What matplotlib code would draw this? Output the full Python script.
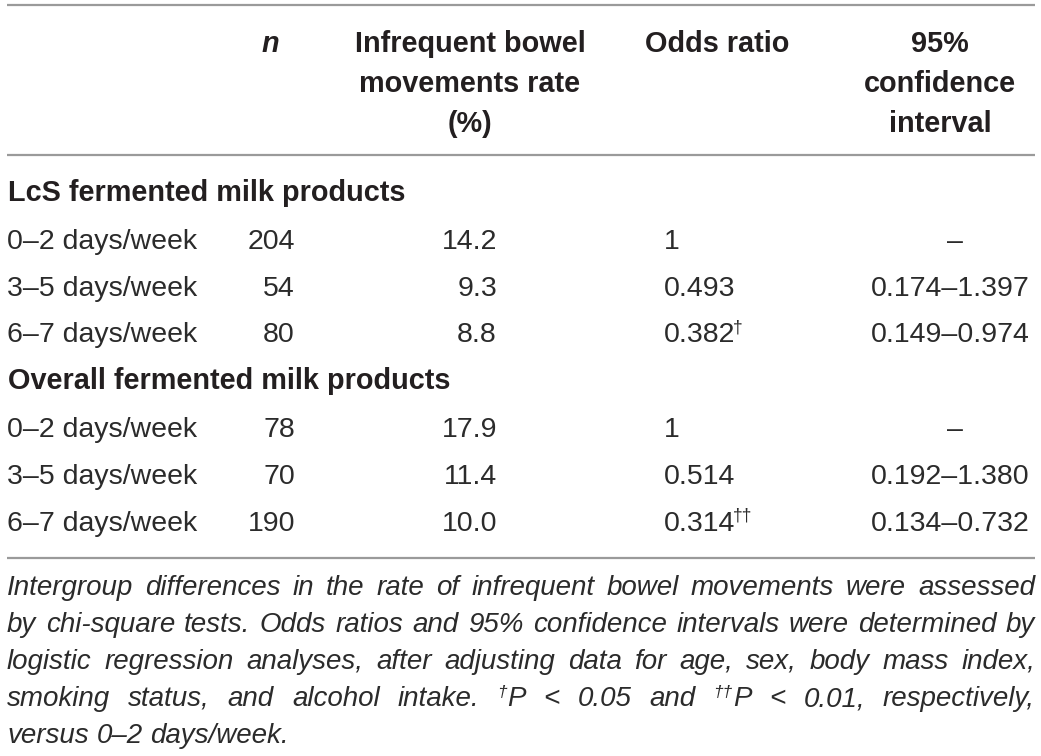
import matplotlib
matplotlib.use("Agg")
import matplotlib.pyplot as plt

# ---- table content -------------------------------------------------------
group_labels = ["LcS fermented milk products", "Overall fermented milk products"]
frequency_labels = ["0–2 days/week", "3–5 days/week", "6–7 days/week"]

lcs_n = [204, 54, 80]
lcs_rate = [14.2, 9.3, 8.8]
lcs_odds = ["1", "0.493", "0.382"]
lcs_odds_mark = ["", "", "†"]
lcs_ci = ["–", "0.174–1.397", "0.149–0.974"]

overall_n = [78, 70, 190]
overall_rate = [17.9, 11.4, 10.0]
overall_odds = ["1", "0.514", "0.314"]
overall_odds_mark = ["", "", "††"]
overall_ci = ["–", "0.192–1.380", "0.134–0.732"]

header_rate = ["Infrequent bowel", "movements rate", "(%)"]
header_ci = ["95%", "confidence", "interval"]

caption_lines = [
    "Intergroup differences in the rate of infrequent bowel movements were assessed",
    "by chi-square tests. Odds ratios and 95% confidence intervals were determined by",
    "logistic regression analyses, after adjusting data for age, sex, body mass index,",
    "smoking status, and alcohol intake. †P < 0.05 and ††P < 0.01, respectively,",
    "versus 0–2 days/week.",
]

# ---- style ---------------------------------------------------------------
FONT = ["Liberation Sans", "DejaVu Sans"]
INK = "#231f20"
BODY_INK = "#2b2b2b"
RULE = "#9a9a9a"
FS = 20.5
HFS = 20.8
CAP_FS = 20.0

fig = plt.figure(figsize=(10.41, 7.56), dpi=100)
ax = fig.add_axes([0, 0, 1, 1])
ax.set_xlim(0, 1041)
ax.set_ylim(756, 0)
ax.set_axis_off()
renderer = fig.canvas.get_renderer()


def txt(x, y, s, ha="left", weight="normal", style="normal", size=FS):
    col = INK if weight == "bold" else BODY_INK
    return ax.text(x, y, s, ha=ha, va="baseline", fontsize=size, fontweight=weight,
                   fontstyle=style, color=col, family=FONT)


def width(t):
    return t.get_window_extent(renderer).width


# rules
for y in (5, 155, 558):
    ax.plot([7, 1035], [y, y], color=RULE, lw=1.6, solid_capstyle="butt")

# header
hdr_base = [52, 92, 132]
txt(270, hdr_base[0], "n", ha="center", weight="bold", style="italic", size=HFS)
for y, s in zip(hdr_base, header_rate):
    txt(470, y, s, ha="center", weight="bold", size=HFS)
txt(645, hdr_base[0], "Odds ratio", weight="bold", size=HFS)
for y, s in zip(hdr_base, header_ci):
    txt(940, y, s, ha="center", weight="bold", size=HFS)

# body
X_LABEL, X_N, X_RATE, X_OR, X_CI, X_DASH = 7, 295, 497, 664, 1030, 955
blocks = [
    (group_labels[0], lcs_n, lcs_rate, lcs_odds, lcs_odds_mark, lcs_ci, [201, 249, 296, 342]),
    (group_labels[1], overall_n, overall_rate, overall_odds, overall_odds_mark, overall_ci,
     [389, 437, 484, 531]),
]
for label, ns, rates, odds, marks, cis, ys in blocks:
    txt(X_LABEL + 1, ys[0], label, weight="bold", size=HFS)
    for y, freq, n, rate, o, mk, ci in zip(ys[1:], frequency_labels, ns, rates, odds, marks, cis):
        txt(X_LABEL, y, freq)
        txt(X_N, y, str(n), ha="right")
        txt(X_RATE, y, f"{rate:.1f}", ha="right")
        t = txt(X_OR, y, o)
        if mk:
            txt(X_OR + width(t) - 2, y - 10, mk, size=FS * 0.62)
        if ci == "–":
            txt(X_DASH, y, ci, ha="center")
        else:
            txt(X_CI, y, ci, ha="right")


# caption, justified between the rules' ends
def caption_word(x, y, word, draw=True):
    """Draw a word whose leading daggers are superscript; return its width."""
    lead = len(word) - len(word.lstrip("†"))
    w = 0.0
    if lead:
        t = ax.text(x, y - 9, word[:lead], ha="left", va="baseline", fontsize=CAP_FS * 0.62,
                    fontstyle="italic", color=BODY_INK, family=FONT)
        w += width(t)
        if not draw:
            t.remove()
    t = ax.text(x + w, y, word[lead:], ha="left", va="baseline", fontsize=CAP_FS,
                fontstyle="italic", color=BODY_INK, family=FONT)
    w += width(t)
    if not draw:
        t.remove()
    return w


cap_base = [595, 632, 669, 706, 743]
left, right = 7, 1035
for i, (y, line) in enumerate(zip(cap_base, caption_lines)):
    words = line.split(" ")
    widths = [caption_word(0, y, w, draw=False) for w in words]
    if i < len(caption_lines) - 1:
        gap = (right - left - sum(widths)) / (len(words) - 1)
    else:
        sp = ax.text(0, y, "a a", fontsize=CAP_FS, fontstyle="italic", family=FONT)
        sp2 = ax.text(0, y, "aa", fontsize=CAP_FS, fontstyle="italic", family=FONT)
        gap = width(sp) - width(sp2)
        sp.remove()
        sp2.remove()
    x = left
    for w, wd in zip(words, widths):
        caption_word(x, y, w)
        x += wd + gap

fig.savefig("out.png", dpi=100, facecolor="white")
